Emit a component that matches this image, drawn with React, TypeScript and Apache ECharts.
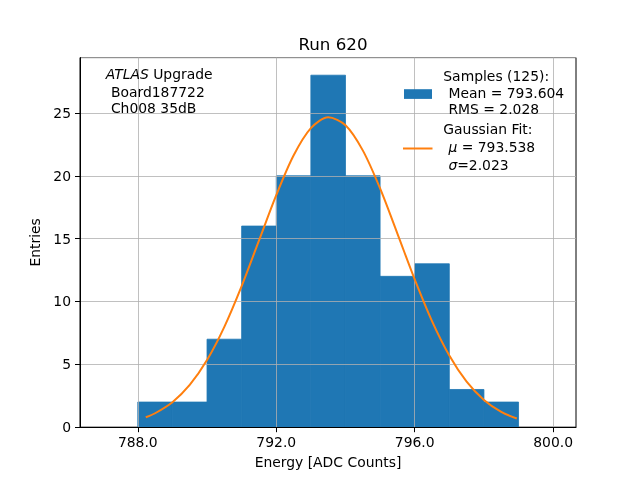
import React, { useEffect, useRef } from "react";
import * as echarts from "echarts";

const BIN_EDGES = [788, 789, 790, 791, 792, 793, 794, 795, 796, 797, 798, 799];
const COUNTS = [2, 2, 7, 16, 20, 28, 20, 12, 13, 3, 2];

const FIT_X = [788.23, 788.5, 789.0, 789.5, 790.0, 790.5, 791.0, 791.5, 792.0, 792.5, 793.0, 793.5, 794.0, 794.5, 795.0, 795.5, 796.0, 796.5, 797.0, 797.5, 798.0, 798.5, 798.95];
const FIT_Y = [0.79, 1.11, 1.99, 3.36, 5.34, 7.98, 11.22, 14.84, 18.46, 21.61, 23.79, 24.65, 24.02, 22.02, 18.99, 15.4, 11.76, 8.44, 5.7, 3.62, 2.17, 1.22, 0.69];

const X_TICKS = [788, 792, 796, 800];
const TITLE = "Run 620";
const X_NAME = "Energy [ADC Counts]";
const Y_NAME = "Entries";

const FONT = "DejaVu Sans";
const FS = 13.9;

export default function App() {
  const ref = useRef<HTMLDivElement>(null);
  useEffect(() => {
    if (!ref.current) return;
    const chart = echarts.init(ref.current, null, { renderer: "svg" });
    const barData = COUNTS.map((c, i) => [BIN_EDGES[i], BIN_EDGES[i + 1], c]);
    const lineData = FIT_X.map((x, i) => [x, FIT_Y[i]]);
    const txt = (x: number, y: number, text: string, rich?: any, extra?: any) => ({
      type: "text",
      x,
      y,
      z: 100,
      style: {
        text,
        fontFamily: FONT,
        fontSize: FS,
        fill: "#000",
        verticalAlign: "middle",
        align: "left",
        rich,
        ...(extra || {}),
      },
    });
    const italic = { i: { fontStyle: "italic", fontFamily: FONT, fontSize: FS, fill: "#000" } };
    chart.setOption({
      animation: false,
      title: {
        text: TITLE,
        left: 328,
        top: 30,
        textAlign: "center",
        textStyle: { fontFamily: FONT, fontSize: 16.7, fontWeight: "normal", color: "#000" },
      },
      grid: {
        left: 80,
        top: 57.6,
        width: 496,
        height: 369.6,
        show: true,
        borderColor: "#000",
        borderWidth: 1,
        backgroundColor: "transparent",
        containLabel: false,
      },
      xAxis: {
        type: "value",
        min: 786.33,
        max: 800.66,
        z: 3,
        name: X_NAME,
        nameLocation: "middle",
        nameGap: 28,
        nameTextStyle: { fontFamily: FONT, fontSize: FS, color: "#000" },
        axisLine: { show: true, onZero: false, lineStyle: { color: "#000", width: 1 } },
        axisTick: { show: true, length: 5, inside: false, customValues: X_TICKS, lineStyle: { color: "#000" } },
        axisLabel: {
          customValues: X_TICKS,
          margin: 8,
          fontFamily: FONT,
          fontSize: FS,
          color: "#000",
          formatter: (v: number) => v.toFixed(1),
        },
        splitLine: { show: true, lineStyle: { color: "#b0b0b0", width: 0.8 } },
      },
      yAxis: {
        type: "value",
        min: 0,
        max: 29.4,
        interval: 5,
        z: 3,
        name: Y_NAME,
        nameLocation: "middle",
        nameGap: 31,
        nameTextStyle: { fontFamily: FONT, fontSize: FS, color: "#000" },
        axisLine: { show: true, lineStyle: { color: "#000", width: 1 } },
        axisTick: { show: true, length: 5, inside: false, lineStyle: { color: "#000" } },
        axisLabel: {
          margin: 9,
          fontFamily: FONT,
          fontSize: FS,
          color: "#000",
          showMaxLabel: false,
        },
        splitLine: { show: true, lineStyle: { color: "#b0b0b0", width: 0.8 } },
      },
      series: [
        {
          type: "custom",
          z: 1,
          data: barData,
          encode: { x: [0, 1], y: 2 },
          renderItem: (params: any, api: any) => {
            const a = api.coord([api.value(0), api.value(2)]);
            const b = api.coord([api.value(1), 0]);
            return {
              type: "rect",
              shape: { x: a[0], y: a[1], width: b[0] - a[0], height: b[1] - a[1] },
              style: { fill: "#1f77b4", stroke: "#1f77b4", lineWidth: 0.8 },
            };
          },
        },
        {
          type: "line",
          z: 5,
          data: lineData,
          showSymbol: false,
          smooth: 0.3,
          lineStyle: { color: "#ff7f0e", width: 2 },
        },
      ],
      graphic: [
        txt(105.7, 74, "{i|ATLAS} Upgrade", italic),
        txt(106.5, 91.8, " Board187722"),
        txt(106.5, 108.3, " Ch008 35dB"),
        { type: "rect", z: 100, shape: { x: 404, y: 89.2, width: 28, height: 9.7 }, style: { fill: "#1f77b4" } },
        txt(443.3, 76, "Samples (125):"),
        txt(444, 92.5, " Mean = 793.604"),
        txt(444, 109.2, " RMS = 2.028"),
        { type: "line", z: 100, shape: { x1: 403, y1: 148.5, x2: 432.5, y2: 148.5 }, style: { stroke: "#ff7f0e", lineWidth: 2 } },
        txt(443.3, 129.3, "Gaussian Fit:"),
        txt(444, 147.3, " {i|μ} = 793.538", italic),
        txt(444, 165, " {i|σ}=2.023", italic),
      ],
    });
    return () => chart.dispose();
  }, []);
  return <div ref={ref} style={{ position: "fixed", left: 0, top: 0, width: 640, height: 480 }} />;
}
